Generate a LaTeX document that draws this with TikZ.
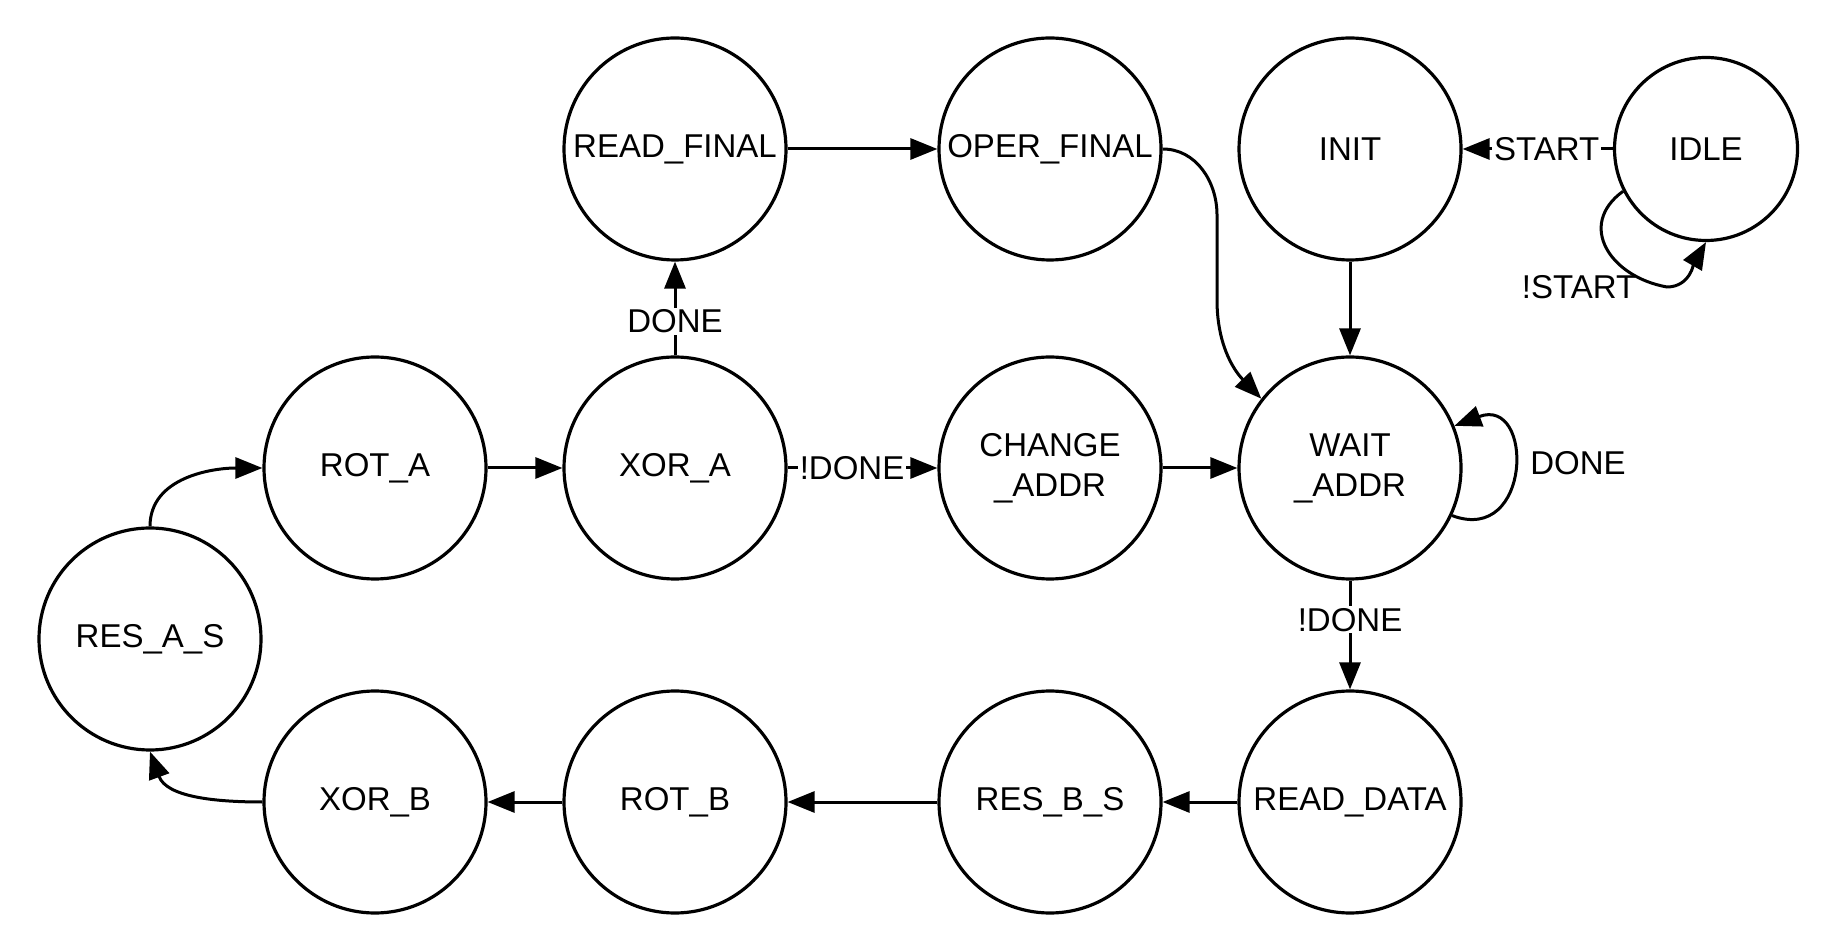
\documentclass[tikz,border=0pt]{standalone}
\usepackage{fontspec}
\setmainfont{Liberation Sans}
\usetikzlibrary{arrows.meta}
\begin{document}
\begin{tikzpicture}[x=0.5pt,y=0.5pt,
  state/.style={circle,draw,line width=1.6pt,minimum size=111pt,inner sep=0pt,align=center,font=\fontsize{16.5}{20}\selectfont},
  small/.style={state,minimum size=91.5pt},
  tr/.style={line width=1.5pt,-{Triangle[length=13.5pt,width=10.5pt]}},
  lbl/.style={fill=white,inner sep=1pt,font=\fontsize{16.5}{20}\selectfont},
  plain/.style={inner sep=1pt,font=\fontsize{16.5}{20}\selectfont}]
\useasboundingbox (0,0) rectangle (1834,926);
% states
\node[state] (READ_FINAL) at (675,777) {READ\_FINAL};
\node[state] (OPER_FINAL) at (1050,777) {OPER\_FINAL};
\node[state] (INIT) at (1350,777) {INIT};
\node[small] (IDLE) at (1706,777) {IDLE};
\node[state] (ROT_A) at (375,458) {ROT\_A};
\node[state] (XOR_A) at (675,458) {XOR\_A};
\node[state] (CHANGE_ADDR) at (1050,458) {CHANGE\\\_ADDR};
\node[state] (WAIT_ADDR) at (1350,458) {WAIT\\\_ADDR};
\node[state] (RES_A_S) at (150,287) {RES\_A\_S};
\node[state] (XOR_B) at (375,124) {XOR\_B};
\node[state] (ROT_B) at (675,124) {ROT\_B};
\node[state] (RES_B_S) at (1050,124) {RES\_B\_S};
\node[state] (READ_DATA) at (1350,124) {READ\_DATA};
% helper coordinates
\coordinate (c1) at (1217,711);
\coordinate (c2) at (1217,626);
\coordinate (loopbot) at (1667,639);
% transitions
\draw[tr] (READ_FINAL) -- (OPER_FINAL);
\draw[tr] (OPER_FINAL.east) to[out=0,in=90] (c1) -- (c2) to[out=-90,in=134] (WAIT_ADDR.142);
\draw[tr] (IDLE) -- node[lbl,pos=0.44] (lstart) {START} (INIT);
\draw[tr] (IDLE.207) to[out=216,in=170,looseness=1.4] (loopbot) to[out=0,in=-120] (IDLE.south);
\node[plain] (lnstart) at (1579,639) {!START};
\draw[tr] (INIT) -- (WAIT_ADDR);
\draw[tr] (WAIT_ADDR.-25) .. controls +(80,-30) and +(80,30) .. (WAIT_ADDR.22);
\node[plain] (ldone) at (1578,463) {DONE};
\draw[tr] (WAIT_ADDR) -- node[lbl,pos=0.36] (lndone) {!DONE} (READ_DATA);
\draw[tr] (CHANGE_ADDR) -- (WAIT_ADDR);
\draw[tr] (XOR_A) -- node[lbl,pos=0.43] (lxndone) {!DONE} (CHANGE_ADDR);
\draw[tr] (XOR_A) -- node[lbl,pos=0.36] (lxdone) {DONE} (READ_FINAL);
\draw[tr] (ROT_A) -- (XOR_A);
\draw[tr] (RES_A_S.north) to[out=90,in=180] (ROT_A.west);
\draw[tr] (XOR_B.west) to[out=180,in=-70] (RES_A_S.south);
\draw[tr] (READ_DATA) -- (RES_B_S);
\draw[tr] (RES_B_S) -- (ROT_B);
\draw[tr] (ROT_B) -- (XOR_B);
\end{tikzpicture}
\end{document}
